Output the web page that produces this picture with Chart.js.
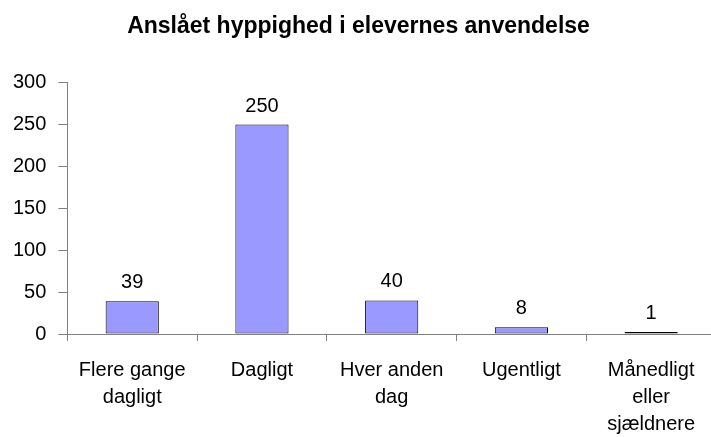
<!DOCTYPE html>
<html>
<head>
<meta charset="utf-8">
<script src="https://cdn.jsdelivr.net/npm/chart.js@4.4.0/dist/chart.umd.min.js"></script>
<style>
    body { margin: 0; background: #fff; overflow: hidden; }
    canvas { display: block; }
</style>
</head>
<body>
<!-- lærredet er lidt bredere end vinduet, så sidste kategori går ud over kanten som i originalen -->
<canvas id="freq-chart" width="716" height="437"></canvas>
<script>
const titleText = 'Anslået hyppighed i elevernes anvendelse';
const categories = [
    ['Flere gange', 'dagligt'],
    'Dagligt',
    ['Hver anden', 'dag'],
    'Ugentligt',
    ['Månedligt', 'eller', 'sjældnere']
];
const counts = [39, 250, 40, 8, 1];
const yTicks = [0, 50, 100, 150, 200, 250, 300];

const FONT = "'Liberation Sans', Arial, sans-serif";
const AXIS_GREY = '#808080';

// Tal over søjlerne
const valueLabels = {
    id: 'valueLabels',
    afterDatasetsDraw(chart) {
        const ctx = chart.ctx;
        const meta = chart.getDatasetMeta(0);
        ctx.save();
        ctx.font = '20px ' + FONT;
        ctx.fillStyle = '#000';
        ctx.textAlign = 'center';
        ctx.textBaseline = 'alphabetic';
        meta.data.forEach((bar, i) => {
            ctx.fillText(String(counts[i]), bar.x, bar.y - 13);
        });
        ctx.restore();
    }
};

const ctx = document.getElementById('freq-chart').getContext('2d');
new Chart(ctx, {
    type: 'bar',
    data: {
        labels: categories,
        datasets: [{
            data: counts,
            backgroundColor: '#9999FF',
            borderColor: '#000000',
            borderWidth: 1,
            borderSkipped: false,
            minBarLength: 2,
            categoryPercentage: 1,
            barPercentage: 0.41
        }]
    },
    options: {
        responsive: false,
        animation: false,
        layout: {
            padding: { left: 1, right: 0, top: 0, bottom: -17 }
        },
        plugins: {
            legend: { display: false },
            tooltip: { enabled: false },
            title: {
                display: true,
                text: titleText,
                color: '#000',
                font: { family: FONT, size: 23, weight: 'bold', lineHeight: 1.2 },
                padding: { top: 13, bottom: 42 }
            }
        },
        scales: {
            x: {
                grid: {
                    offset: true,
                    drawOnChartArea: false,
                    drawTicks: true,
                    tickLength: 7,
                    color: AXIS_GREY
                },
                border: { color: AXIS_GREY, width: 1 },
                ticks: {
                    color: '#000',
                    font: { family: FONT, size: 20, lineHeight: 1.35 },
                    padding: 16,
                    maxRotation: 0,
                    autoSkip: false
                }
            },
            y: {
                min: 0,
                max: 300,
                afterBuildTicks(scale) {
                    scale.ticks = yTicks.map(v => ({ value: v }));
                },
                grid: {
                    drawOnChartArea: false,
                    drawTicks: true,
                    tickLength: 9,
                    color: AXIS_GREY
                },
                border: { color: AXIS_GREY, width: 1 },
                ticks: {
                    color: '#000',
                    font: { family: FONT, size: 20 },
                    padding: 12
                }
            }
        }
    },
    plugins: [valueLabels]
});
</script>
</body>
</html>
